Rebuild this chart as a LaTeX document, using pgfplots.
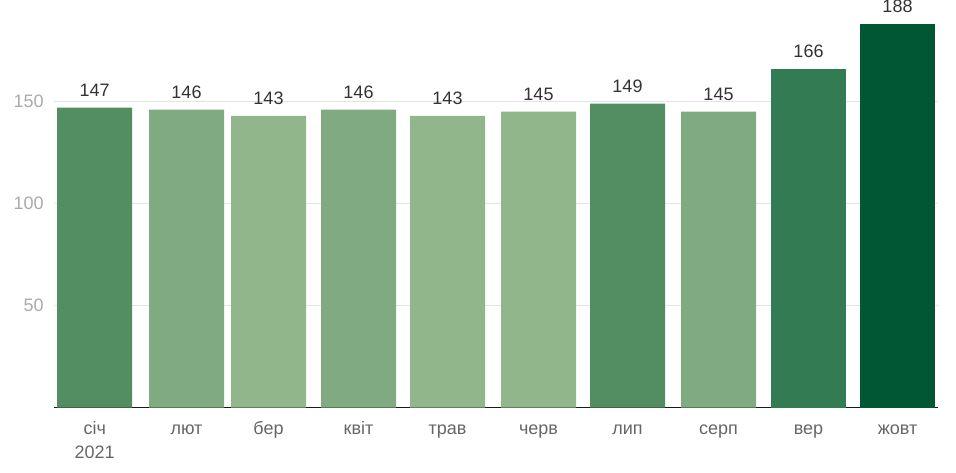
\documentclass[border=0pt]{standalone}
\usepackage{fontspec}
\setmainfont{Liberation Sans}
\usepackage{pgfplots}
\pgfplotsset{compat=1.18}
\usetikzlibrary{calc}
\definecolor{gA}{RGB}{82,142,98}
\definecolor{gB}{RGB}{128,170,128}
\definecolor{gC}{RGB}{145,182,139}
\definecolor{gD}{RGB}{51,123,83}
\definecolor{gE}{RGB}{0,87,51}
\definecolor{ylab}{RGB}{170,170,170}
\definecolor{xlab}{RGB}{102,102,102}
\definecolor{vlab}{RGB}{51,51,51}
\definecolor{gridc}{RGB}{228,228,228}
\pgfplotsset{
  bb/.style={ybar, bar shift=0pt, bar width=75, draw=none, fill=#1,
    nodes near coords,
    every node near coord/.append style={anchor=south, inner sep=0pt, yshift=8pt,
      font=\fontsize{13.5}{16}\selectfont, text=vlab}},
}
% bar centres along the axis (month slots, as laid out in the original)
\def\xs{94.7,186.5,268.5,358.5,447.5,538.5,627.5,718.5,808.5,897.5}
\begin{document}
\begin{tikzpicture}
\begin{axis}[name=ax, scale only axis, width=663pt, height=306.2pt,
  xmin=54, xmax=938, ymin=0, ymax=200,
  axis x line*=bottom, axis y line*=left,
  y axis line style={draw=none}, x axis line style={draw=black!90, line width=0.9pt},
  tick style={draw=none},
  ytick={50,100,150}, ymajorgrids, grid style={gridc, line width=0.6pt},
  /pgf/number format/assume math mode=true,
  yticklabel style={font=\fontsize{13.5}{16}\selectfont, text=ylab, anchor=east, inner sep=0pt, xshift=-7.5pt},
  xtick/.expanded={\xs},
  xticklabels={{\strut січ\\[2.5pt]2021},\strut лют,\strut бер,\strut квіт,\strut трав,\strut черв,\strut лип,\strut серп,\strut вер,\strut жовт},
  xticklabel style={font=\fontsize{13.5}{15.4}\selectfont, text=xlab, align=center, anchor=north, inner sep=0pt, yshift=-9pt},
  clip=false]
\addplot[bb=gA] coordinates {(94.7,147) (627.5,149)};
\addplot[bb=gB] coordinates {(186.5,146) (358.5,146) (718.5,145)};
\addplot[bb=gC] coordinates {(268.5,143) (447.5,143) (538.5,145)};
\addplot[bb=gD] coordinates {(808.5,166)};
\addplot[bb=gE] coordinates {(897.5,188)};
\end{axis}
\pgfresetboundingbox
\path[use as bounding box] ($(ax.south west)+(-40.5pt,-48.5pt)$) rectangle ($(ax.north east)+(13.5pt,-0.4pt)$);
\end{tikzpicture}
\end{document}
